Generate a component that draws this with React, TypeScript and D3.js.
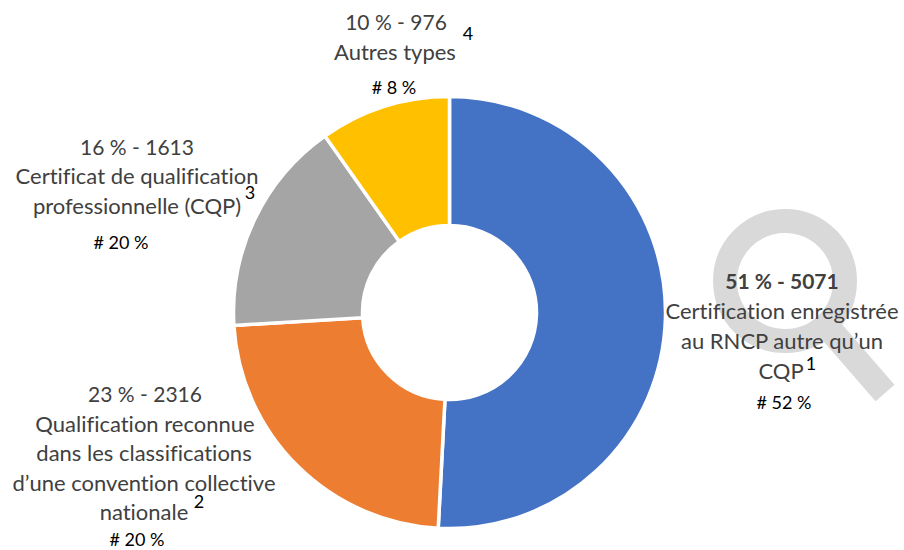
import React from "react";
import * as d3 from "d3";

const categories = ["Certification RNCP", "Qualification CCN", "CQP", "Autres types"];
const values = [5071, 2316, 1613, 976];
const colors = ["#4472C4", "#ED7D31", "#A5A5A5", "#FFC000"];

const W = 904, H = 550;
const cx = 449.5, cy = 312.5, R = 216, r = 87;
const FONT = "Lato, Carlito, sans-serif";
const GREY = "#404040";

type L = { t: string; x: number; y: number; size: number; fill: string; bold?: boolean };
const labels: L[] = [
  { t: "10 % - 976", x: 396, y: 30, size: 21, fill: GREY },
  { t: "Autres types", x: 395, y: 60, size: 22, fill: GREY },
  { t: "4", x: 468, y: 40, size: 18, fill: "#000" },
  { t: "# 8 %", x: 394, y: 94, size: 18, fill: "#000" },
  { t: "16 % - 1613", x: 137, y: 155, size: 21, fill: GREY },
  { t: "Certificat de qualification", x: 137, y: 184, size: 22, fill: GREY },
  { t: "professionnelle (CQP)", x: 137, y: 214, size: 22, fill: GREY },
  { t: "3", x: 250, y: 199, size: 18, fill: "#000" },
  { t: "# 20 %", x: 121, y: 249, size: 18, fill: "#000" },
  { t: "51 % - 5071", x: 782, y: 289, size: 21, fill: GREY, bold: true },
  { t: "Certification enregistrée", x: 782, y: 319, size: 22, fill: GREY },
  { t: "au RNCP autre qu’un", x: 782, y: 349, size: 22, fill: GREY },
  { t: "CQP", x: 781, y: 379, size: 22, fill: GREY },
  { t: "1", x: 811, y: 370, size: 18, fill: "#000" },
  { t: "# 52 %", x: 784, y: 409, size: 18, fill: "#000" },
  { t: "23 % - 2316", x: 145, y: 402, size: 21, fill: GREY },
  { t: "Qualification reconnue", x: 145, y: 432, size: 22, fill: GREY },
  { t: "dans les classifications", x: 144, y: 461, size: 22, fill: GREY },
  { t: "d’une convention collective", x: 144, y: 491, size: 22, fill: GREY },
  { t: "nationale", x: 144, y: 520, size: 22, fill: GREY },
  { t: "2", x: 199, y: 508, size: 18, fill: "#000" },
  { t: "# 20 %", x: 137, y: 546, size: 18, fill: "#000" },
];

export default function App() {
  const pie = d3.pie<number>().sort(null).value((d) => d)(values);
  const arc = d3.arc<d3.PieArcDatum<number>>().innerRadius(r).outerRadius(R);
  return (
    <svg width={W} height={H} style={{ position: "absolute", left: 0, top: 0, fontVariantLigatures: "none" }} fontFamily={FONT}>
      <rect width={W} height={H} fill="#fff" />
      <g stroke="#d9d9d9" fill="none">
        <circle cx={785} cy={281} r={60} strokeWidth={24} />
        <line x1={826} y1={325} x2={885} y2={393} strokeWidth={25} />
      </g>
      <g transform={`translate(${cx},${cy})`}>
        {pie.map((p, i) => (
          <path key={categories[i]} d={arc(p) || ""} fill={colors[i]} stroke="#fff" strokeWidth={3.5} />
        ))}
      </g>
      {labels.map((l, i) => (
        <text key={i} x={l.x} y={l.y} textAnchor="middle" fontSize={l.size} fill={l.fill} fontWeight={l.bold ? 700 : 400}>
          {l.t}
        </text>
      ))}
    </svg>
  );
}
